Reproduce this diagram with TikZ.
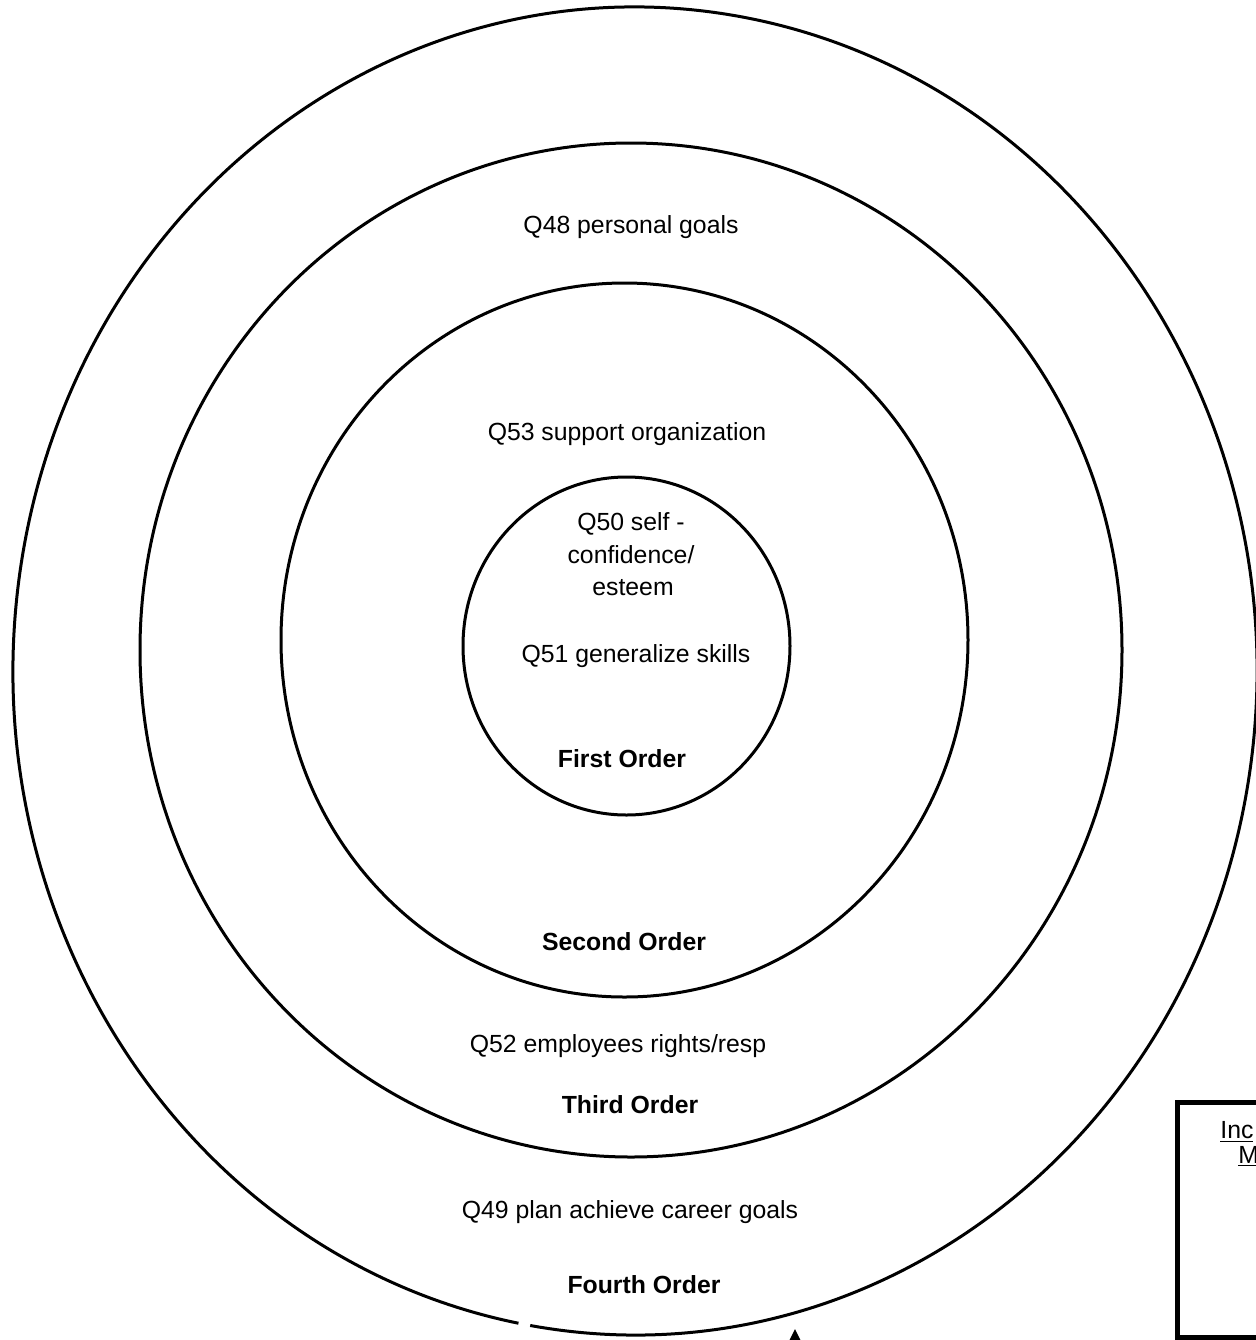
\documentclass[tikz,border=0pt]{standalone}
\usepackage{fontspec}
\setmainfont{Liberation Sans}
\begin{document}
\begin{tikzpicture}[x=0.5pt,y=-0.5pt,
  ring/.style={line width=1.5pt},
  lbl/.style={font=\fontsize{12.4}{15}\selectfont, anchor=base, inner sep=0pt},
  ord/.style={lbl, font=\fontsize{12.4}{15}\selectfont\bfseries}]
\useasboundingbox (0,0) rectangle (1255,1340);
\fill[white] (0,0) rectangle (1255,1340);
% rings
\draw[ring] (635,671) ++(100.8:622 and 664) arc[start angle=100.8, end angle=459.7, x radius=622, y radius=664];
\draw[ring] (631,650) ellipse [x radius=491, y radius=507];
\draw[ring] (624.5,640) ellipse [x radius=343.5, y radius=357];
\draw[ring] (626.5,646) ellipse [x radius=163.5, y radius=169];
% labels
\node[lbl] (q48) at (631,233) {Q48 personal goals};
\node[lbl] (q53) at (627,440) {Q53 support organization};
\node[lbl] (q50a) at (631,530) {Q50 self -};
\node[lbl] (q50b) at (631,563) {confidence/};
\node[lbl] (q50c) at (633,595) {esteem};
\node[lbl] (q51) at (636,662) {Q51 generalize skills};
\node[ord] (o1) at (622,767) {First Order};
\node[ord] (o2) at (624,950) {Second Order};
\node[lbl] (q52) at (618,1052) {Q52 employees rights/resp};
\node[ord] (o3) at (630,1113) {Third Order};
\node[lbl] (q49) at (630,1218) {Q49 plan achieve career goals};
\node[ord] (o4) at (644,1293) {Fourth Order};
% box at lower right
\draw[line width=2.5pt] (1300,1102) -| (1177,1337) -- (1300,1337);
\node[lbl, anchor=base west] (inc) at (1220,1138) {\underline{Inc}};
\node[lbl, anchor=base west] (mm) at (1238,1163) {\underline{M}};
% arrow tip at bottom edge
\fill (789,1341) -- (795,1329) -- (801,1341) -- cycle;
\end{tikzpicture}
\end{document}
